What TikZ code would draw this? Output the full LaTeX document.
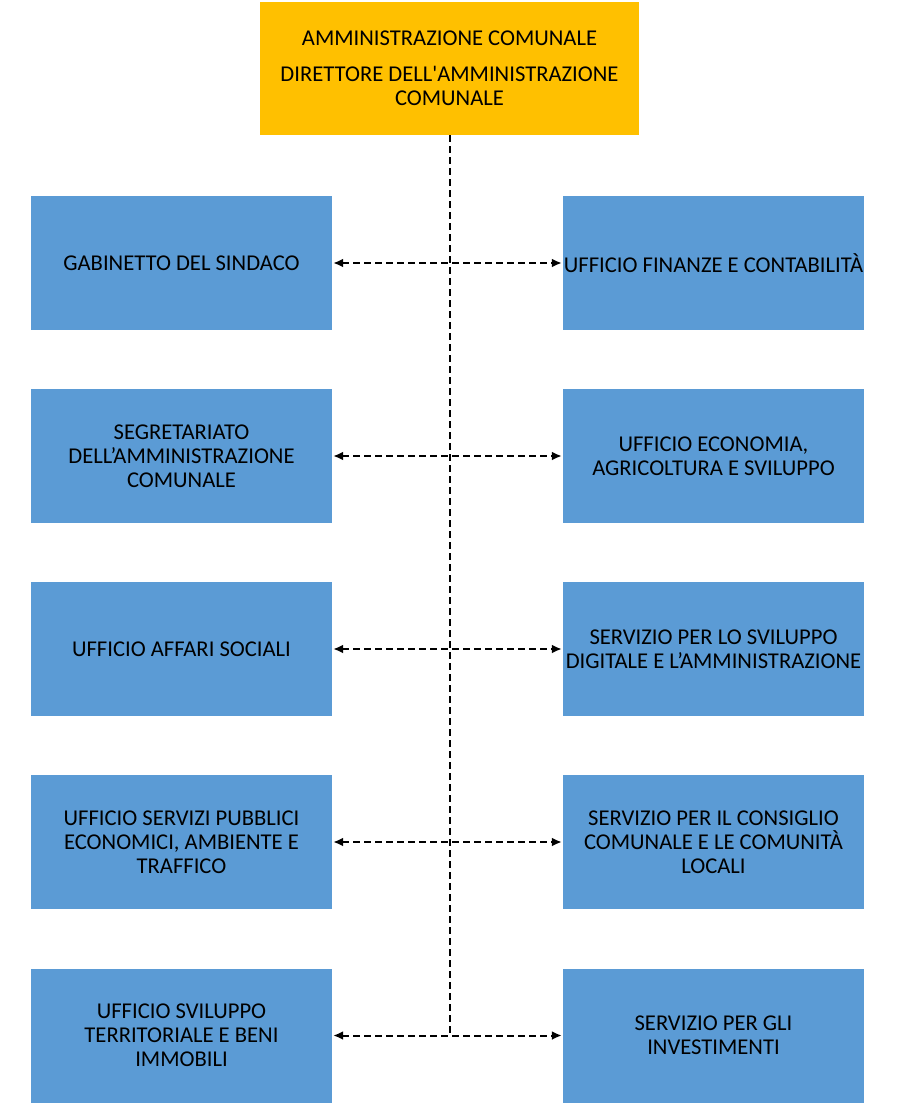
\documentclass[tikz,border=0pt]{standalone}
\usepackage{fontspec}
\setmainfont{Carlito}
\newfontfamily\headfont{Carlito}
\usetikzlibrary{arrows.meta}
\usetikzlibrary{positioning}
\tikzset{office/.style = {fill=mblue, inner sep=0, minimum width=301, minimum height=134,
                          align=center, font=\fontsize{22.6}{24}\selectfont}}
\tikzset{head/.style = {fill=morange, inner sep=0, minimum width=379, minimum height=133,
                        align=center, font=\headfont\fontsize{22.6}{24}\selectfont}}
\tikzset{link/.style = {{Latex[length=10pt,width=9pt]}-{Latex[length=10pt,width=9pt]},
                        line width=2pt, dash pattern=on 7pt off 4pt, shorten <=1pt, shorten >=1pt}}
\tikzset{stem/.style = {line width=2pt, dash pattern=on 7pt off 4pt}}
\definecolor{morange}{RGB}{255, 192, 0}
\definecolor{mblue}{RGB}{91, 155, 213}

\begin{document}
\begin{tikzpicture}[x=1pt, y=-1pt]
    \useasboundingbox (0, 0) rectangle (900, 1105);

    \node [head] (dir) at (449.5, 68.5) {AMMINISTRAZIONE COMUNALE\\[12pt]DIRETTORE DELL'AMMINISTRAZIONE\\COMUNALE};

    \node [office] (gab) at (181.5, 263) {GABINETTO DEL SINDACO};
    \node [office] (seg) at (181.5, 456) {SEGRETARIATO\\DELL’AMMINISTRAZIONE\\COMUNALE};
    \node [office] (soc) at (181.5, 649) {UFFICIO AFFARI SOCIALI};
    \node [office] (amb) at (181.5, 842) {UFFICIO SERVIZI PUBBLICI\\ECONOMICI, AMBIENTE E\\TRAFFICO};
    \node [office] (ter) at (181.5, 1035.5) {UFFICIO SVILUPPO\\TERRITORIALE E BENI\\IMMOBILI};

    \node [office] (fin) at (713.5, 263) {UFFICIO FINANZE E CONTABILITÀ};
    \node [office] (eco) at (713.5, 456) {UFFICIO ECONOMIA,\\AGRICOLTURA E SVILUPPO};
    \node [office] (dig) at (713.5, 649) {SERVIZIO PER LO SVILUPPO\\DIGITALE E L’AMMINISTRAZIONE};
    \node [office] (con) at (713.5, 842) {SERVIZIO PER IL CONSIGLIO\\COMUNALE E LE COMUNITÀ\\LOCALI};
    \node [office] (inv) at (713.5, 1035.5) {SERVIZIO PER GLI\\INVESTIMENTI};

    \coordinate (foot) at (dir.south |- ter.east);
    \draw [stem] (dir.south) -- (foot);

    \draw [link] (gab.east) -- (fin.west);
    \draw [link] (seg.east) -- (eco.west);
    \draw [link] (soc.east) -- (dig.west);
    \draw [link] (amb.east) -- (con.west);
    \draw [link] (ter.east) -- (inv.west);
\end{tikzpicture}
\end{document}
